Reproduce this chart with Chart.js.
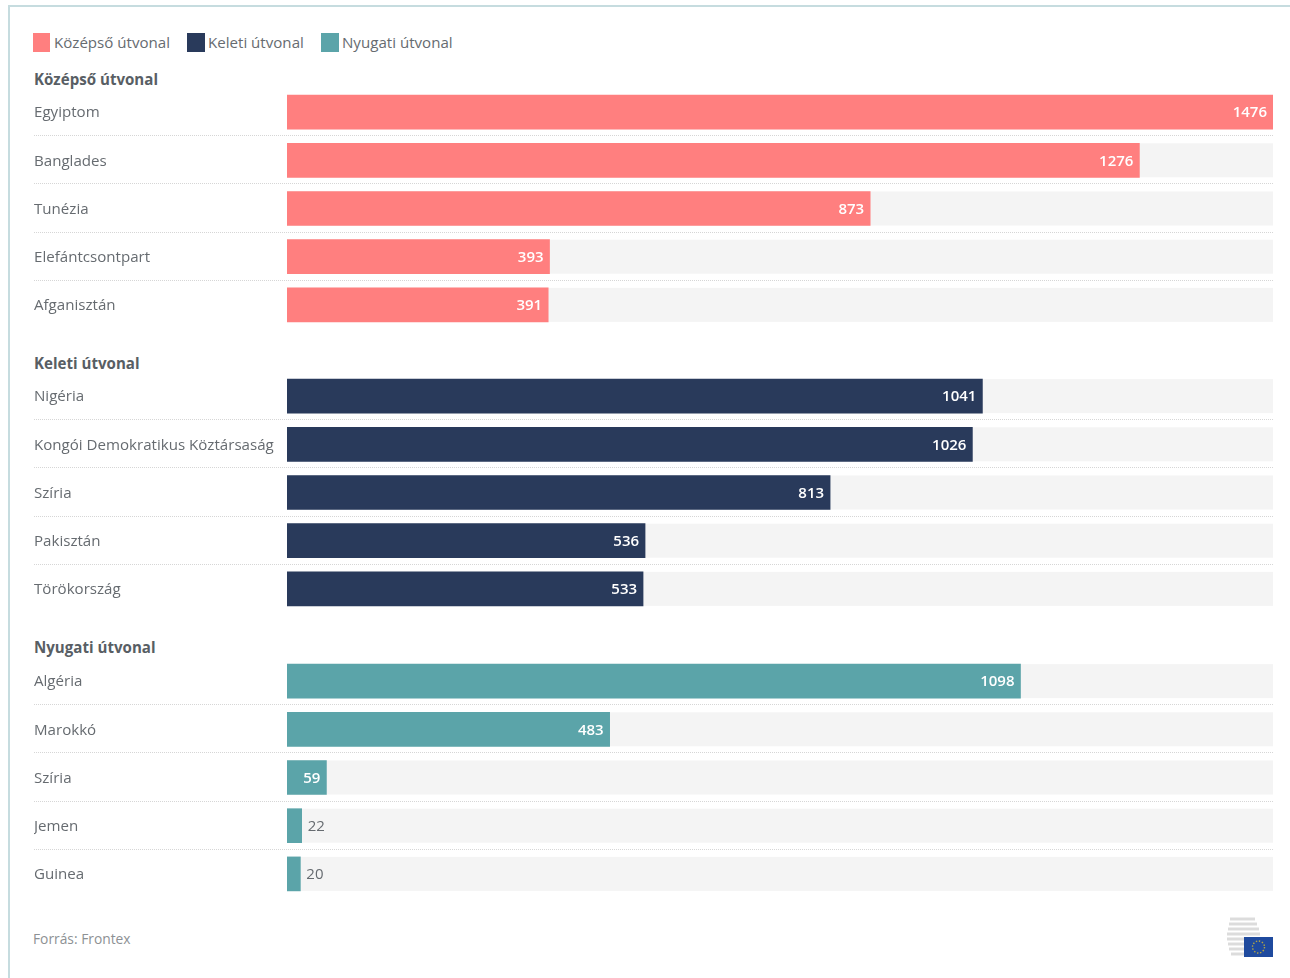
<!DOCTYPE html>
<html lang="hu">
<head>
<meta charset="utf-8">
<title>Útvonalak</title>
<script src="https://cdn.jsdelivr.net/npm/chart.js@4.4.6/dist/chart.umd.js"></script>
<style>
html, body { margin: 0; background: #fff; }
body { width: 1290px; height: 978px; position: relative; overflow: hidden; font-family: "Open Sans", sans-serif; color: #666b70; }
#frame { position: absolute; left: 8px; top: 5px; width: 1300px; height: 990px; border: 2px solid #c6dcdf; box-sizing: border-box; }
.legend { position: absolute; top: 33px; height: 19px; line-height: 19px; font-size: 15.1px; padding-left: 21px; white-space: nowrap; }
.legend i { position: absolute; left: 0; top: 0; width: 17px; height: 19px; }
.head { position: absolute; left: 34px; font-weight: 700; font-size: 15.1px; line-height: 20px; color: #585e64; }
canvas { position: absolute; left: 0; }
#source { position: absolute; left: 33px; top: 930px; font-size: 13.8px; line-height: 18px; color: #8d9194; }
#logo { position: absolute; left: 1226px; top: 916px; }
</style>
</head>
<body>
<div id="frame"></div>

<div class="legend" style="left:33px"><i style="background:#ff7f7f"></i>Középső útvonal</div>
<div class="legend" style="left:187px"><i style="background:#293a5b;width:18px"></i>Keleti útvonal</div>
<div class="legend" style="left:321px"><i style="background:#5ba4a9;width:18px"></i>Nyugati útvonal</div>

<div class="head" style="top:69px">Középső útvonal</div>
<canvas id="central" width="1290" height="241" style="top:88px"></canvas>
<div class="head" style="top:353px">Keleti útvonal</div>
<canvas id="eastern" width="1290" height="241" style="top:372px"></canvas>
<div class="head" style="top:637px">Nyugati útvonal</div>
<canvas id="western" width="1290" height="241" style="top:657px"></canvas>

<div id="source">Forrás: Frontex</div>
<svg id="logo" width="48" height="42" viewBox="0 0 48 42">
  <g stroke="#dcdcdc" stroke-width="3">
    <line x1="4" y1="3" x2="29" y2="3"/>
    <line x1="3" y1="8" x2="31" y2="8"/>
    <line x1="2" y1="13" x2="33" y2="13"/>
    <line x1="1" y1="18" x2="34" y2="18"/>
    <line x1="1" y1="23" x2="34" y2="23"/>
    <line x1="2" y1="28" x2="33" y2="28"/>
    <line x1="3" y1="33" x2="30" y2="33"/>
    <line x1="5" y1="38" x2="27" y2="38"/>
  </g>
  <rect x="18" y="21" width="29" height="20" fill="#1f4a9e"/>
  <circle cx="32.5" cy="31" r="6" fill="none" stroke="#b5a642" stroke-width="1.4" stroke-dasharray="1.4 1.7"/>
</svg>

<script>
const centralCountries = ['Egyiptom', 'Banglades', 'Tunézia', 'Elefántcsontpart', 'Afganisztán'];
const centralValues = [1476, 1276, 873, 393, 391];
const easternCountries = ['Nigéria', 'Kongói Demokratikus Köztársaság', 'Szíria', 'Pakisztán', 'Törökország'];
const easternValues = [1041, 1026, 813, 536, 533];
const westernCountries = ['Algéria', 'Marokkó', 'Szíria', 'Jemen', 'Guinea'];
const westernValues = [1098, 483, 59, 22, 20];
const maxValue = 1476;

const textColor = '#666b70';

// grey track behind each bar and dotted line between the rows
const rowsPlugin = {
    id: 'rows',
    beforeDatasetsDraw(chart) {
        const ctx = chart.ctx, area = chart.chartArea;
        const bars = chart.getDatasetMeta(0).data;
        ctx.save();
        ctx.fillStyle = '#f4f4f4';
        bars.forEach((bar) => {
            ctx.fillRect(area.left, bar.y - bar.height / 2, area.right - area.left, bar.height);
        });
        ctx.strokeStyle = '#d6d6d6';
        ctx.lineWidth = 1;
        ctx.setLineDash([1, 1]);
        for (let i = 0; i < bars.length - 1; i++) {
            const y = Math.round((bars[i].y + bars[i + 1].y) / 2) - 0.5;
            ctx.beginPath();
            ctx.moveTo(34, y);
            ctx.lineTo(area.right, y);
            ctx.stroke();
        }
        ctx.restore();
    }
};

// value labels: inside the bar, or next to it when it is too short
const valuesPlugin = {
    id: 'values',
    afterDatasetsDraw(chart) {
        const ctx = chart.ctx;
        const values = chart.data.datasets[0].data;
        ctx.save();
        ctx.textBaseline = 'middle';
        chart.getDatasetMeta(0).data.forEach((bar, i) => {
            const wide = bar.x - bar.base > 30;
            ctx.fillStyle = wide ? '#ffffff' : textColor;
            ctx.textAlign = wide ? 'right' : 'left';
            ctx.font = (wide ? '600' : '400') + ' 15px "Open Sans"';
            ctx.fillText(values[i], bar.x + (wide ? -6 : 6), bar.y + 1);
        });
        ctx.restore();
    }
};

function drawRoute(id, labels, values, color) {
    return new Chart(document.getElementById(id).getContext('2d'), {
        type: 'bar',
        data: {
            labels: labels,
            datasets: [{
                data: values,
                backgroundColor: color,
                barThickness: 34
            }]
        },
        options: {
            indexAxis: 'y',
            responsive: false,
            animation: false,
            devicePixelRatio: 1,
            layout: { padding: { left: 34, right: 17, top: 0, bottom: 0 } },
            plugins: { legend: { display: false }, tooltip: { enabled: false } },
            scales: {
                x: { display: false, min: 0, max: maxValue },
                y: {
                    afterFit(scale) {
                        scale.width = 253;
                        scale.paddingTop = 0;
                        scale.paddingBottom = 0;
                    },
                    border: { display: false },
                    grid: { display: false },
                    ticks: {
                        crossAlign: 'far',
                        padding: 0,
                        labelOffset: 1,
                        color: textColor,
                        font: { family: '"Open Sans"', size: 15.1 }
                    }
                }
            }
        },
        plugins: [rowsPlugin, valuesPlugin]
    });
}

drawRoute('central', centralCountries, centralValues, '#ff7f7f');
drawRoute('eastern', easternCountries, easternValues, '#293a5b');
drawRoute('western', westernCountries, westernValues, '#5ba4a9');
</script>
</body>
</html>
